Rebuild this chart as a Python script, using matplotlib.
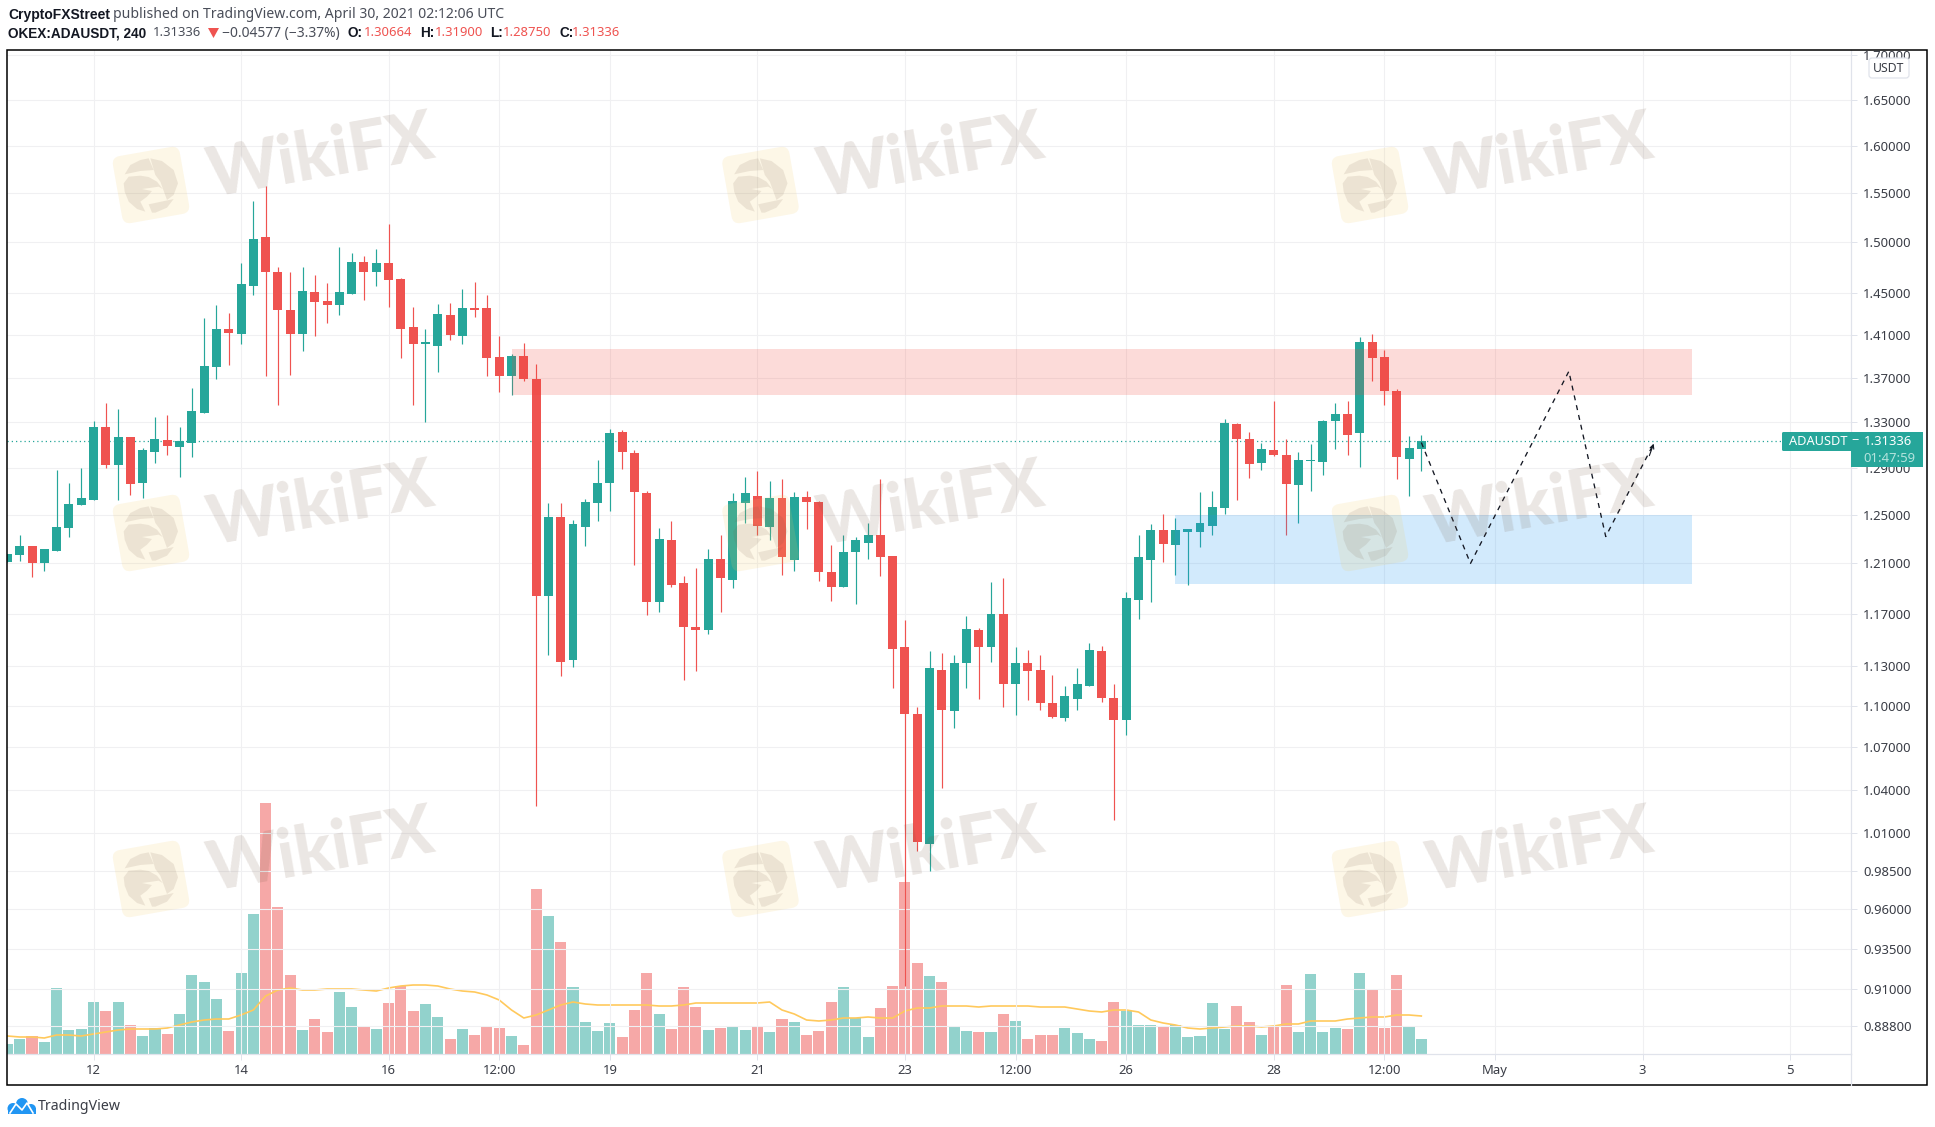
import numpy as np
import matplotlib
matplotlib.use("Agg")
import matplotlib.pyplot as plt
from matplotlib.patches import Rectangle, FancyBboxPatch, Polygon, Circle
from matplotlib.transforms import Affine2D
from matplotlib.ticker import FixedLocator, NullLocator

# -------------------------
#  OHLC (4h candles, index 0 = Apr 12 00:00, first candle is index -7)
# -------------------------
open_ = [1.211, 1.217, 1.224, 1.210, 1.220, 1.239, 1.258, 1.2625, 1.326, 1.292,
         1.317, 1.277, 1.304, 1.314, 1.308, 1.312, 1.338, 1.380, 1.416, 1.411,
         1.457, 1.505, 1.471, 1.434, 1.411, 1.451, 1.442, 1.438, 1.449, 1.480,
         1.471, 1.479, 1.464, 1.417, 1.401, 1.400, 1.429, 1.409, 1.436, 1.436,
         1.389, 1.372, 1.390, 1.369, 1.184, 1.248, 1.134, 1.240, 1.260, 1.277,
         1.321, 1.303, 1.268, 1.179, 1.229, 1.194, 1.160, 1.157, 1.214, 1.197,
         1.260, 1.266, 1.240, 1.264, 1.213, 1.265, 1.261, 1.203, 1.191, 1.219,
         1.227, 1.233, 1.216, 1.144, 1.094, 1.003, 1.127, 1.096, 1.132, 1.157,
         1.144, 1.170, 1.116, 1.132, 1.127, 1.102, 1.091, 1.105, 1.115, 1.141,
         1.106, 1.090, 1.181, 1.213, 1.237, 1.225, 1.236, 1.236, 1.241, 1.256,
         1.328, 1.315, 1.294, 1.3055, 1.301, 1.275, 1.296, 1.295, 1.331, 1.337,
         1.320, 1.403, 1.389, 1.358, 1.298, 1.30664]
high = [1.218, 1.233, 1.224, 1.222, 1.288, 1.277, 1.290, 1.331, 1.347, 1.342,
        1.317, 1.307, 1.335, 1.336, 1.326, 1.361, 1.426, 1.438, 1.431, 1.479,
        1.542, 1.558, 1.476, 1.471, 1.476, 1.468, 1.460, 1.495, 1.489, 1.486,
        1.493, 1.519, 1.465, 1.437, 1.416, 1.439, 1.440, 1.454, 1.461, 1.448,
        1.409, 1.392, 1.402, 1.383, 1.260, 1.260, 1.246, 1.263, 1.297, 1.324,
        1.323, 1.3055, 1.270, 1.239, 1.245, 1.200, 1.206, 1.222, 1.233, 1.268,
        1.282, 1.287, 1.279, 1.280, 1.269, 1.270, 1.262, 1.225, 1.233, 1.232,
        1.243, 1.280, 1.216, 1.165, 1.099, 1.141, 1.140, 1.138, 1.168, 1.159,
        1.195, 1.198, 1.144, 1.142, 1.138, 1.123, 1.115, 1.128, 1.147, 1.145,
        1.116, 1.187, 1.233, 1.242, 1.251, 1.247, 1.238, 1.269, 1.270, 1.333,
        1.329, 1.321, 1.312, 1.349, 1.315, 1.304, 1.311, 1.332, 1.347, 1.349,
        1.408, 1.411, 1.396, 1.360, 1.318, 1.319]
low = [1.211, 1.212, 1.199, 1.204, 1.220, 1.232, 1.258, 1.2625, 1.290, 1.2625,
       1.267, 1.264, 1.294, 1.301, 1.282, 1.299, 1.338, 1.369, 1.382, 1.401,
       1.448, 1.372, 1.345, 1.373, 1.395, 1.409, 1.421, 1.429, 1.449, 1.443,
       1.457, 1.437, 1.388, 1.345, 1.330, 1.375, 1.405, 1.401, 1.427, 1.372,
       1.357, 1.354, 1.367, 1.029, 1.138, 1.122, 1.129, 1.224, 1.245, 1.253,
       1.289, 1.209, 1.169, 1.171, 1.191, 1.119, 1.126, 1.154, 1.171, 1.190,
       1.243, 1.233, 1.229, 1.201, 1.204, 1.238, 1.196, 1.180, 1.191, 1.178,
       1.214, 1.200, 1.113, 0.912, 0.998, 0.985, 1.041, 1.084, 1.113, 1.105,
       1.133, 1.099, 1.093, 1.104, 1.097, 1.091, 1.089, 1.097, 1.115, 1.103,
       1.019, 1.079, 1.166, 1.179, 1.211, 1.201, 1.193, 1.223, 1.233, 1.251,
       1.2625, 1.281, 1.288, 1.300, 1.233, 1.243, 1.270, 1.284, 1.306, 1.301,
       1.291, 1.367, 1.345, 1.280, 1.266, 1.2875]
close = [1.218, 1.224, 1.210, 1.222, 1.240, 1.259, 1.264, 1.326, 1.292, 1.317,
         1.276, 1.3055, 1.315, 1.309, 1.313, 1.340, 1.381, 1.416, 1.412, 1.459,
         1.503, 1.471, 1.434, 1.411, 1.452, 1.441, 1.438, 1.451, 1.480, 1.471,
         1.479, 1.463, 1.416, 1.401, 1.403, 1.430, 1.410, 1.436, 1.434, 1.388,
         1.372, 1.390, 1.369, 1.184, 1.248, 1.133, 1.242, 1.261, 1.277, 1.320,
         1.304, 1.269, 1.179, 1.230, 1.193, 1.160, 1.157, 1.214, 1.198, 1.262,
         1.268, 1.241, 1.264, 1.215, 1.265, 1.261, 1.203, 1.191, 1.219, 1.229,
         1.233, 1.215, 1.143, 1.094, 1.004, 1.128, 1.097, 1.132, 1.158, 1.144,
         1.170, 1.116, 1.132, 1.126, 1.102, 1.092, 1.107, 1.116, 1.142, 1.106,
         1.090, 1.182, 1.215, 1.237, 1.226, 1.237, 1.238, 1.243, 1.257, 1.329,
         1.315, 1.293, 1.306, 1.301, 1.276, 1.297, 1.297, 1.331, 1.337, 1.319,
         1.403, 1.388, 1.358, 1.299, 1.307, 1.31336]

# Volume (no scale on the chart, relative units) and its moving average
volume = [10, 15, 18, 12, 66, 24, 25, 52, 43, 52,
          29, 18, 26, 20, 40, 79, 72, 55, 23, 81,
          140, 251, 147, 79, 24, 35, 22, 62, 47, 28,
          25, 51, 68, 43, 50, 37, 15, 25, 19, 27,
          26, 18, 9, 165, 138, 112, 67, 32, 23, 31,
          17, 44, 81, 40, 25, 67, 47, 24, 26, 27,
          24, 28, 22, 35, 32, 19, 23, 52, 67, 36,
          17, 46, 68, 172, 91, 78, 72, 27, 23, 22,
          22, 40, 33, 15, 19, 19, 26, 21, 15, 13,
          52, 43, 29, 29, 27, 29, 17, 18, 51, 25,
          48, 32, 19, 27, 69, 22, 80, 22, 26, 25,
          81, 64, 26, 79, 28, 15]
vol_ma = [18, 17, 17, 16, 19, 19, 18, 20, 22, 24,
          25, 25, 25, 26, 29, 32, 34, 35, 35, 39,
          44, 58, 64, 66, 64, 64, 65, 65, 65, 64,
          63, 66, 68, 69, 69, 68, 65, 63, 62, 59,
          54, 44, 36, 39, 44, 49, 52, 50, 49, 49,
          49, 49, 49, 48, 48, 49, 51, 51, 51, 51,
          51, 51, 52, 44, 40, 34, 33, 34, 36, 36,
          37, 36, 36, 43, 46, 46, 48, 48, 48, 47,
          48, 48, 48, 48, 47, 47, 47, 45, 43, 42,
          44, 44, 42, 34, 31, 29, 26, 25, 26, 27,
          28, 28, 27, 28, 30, 30, 33, 33, 33, 35,
          36, 37, 37, 39, 39, 38]

# axis ticks
price_ticks = [1.70, 1.65, 1.60, 1.55, 1.50, 1.45, 1.41, 1.37, 1.33, 1.29, 1.25, 1.21,
               1.17, 1.13, 1.10, 1.07, 1.04, 1.01, 0.985, 0.96, 0.935, 0.91, 0.888]
time_ticks = [0, 12, 24, 33, 42, 54, 66, 75, 84, 96, 105, 114, 126, 138]
time_labels = ["12", "14", "16", "12:00", "19", "21", "23", "12:00", "26", "28",
               "12:00", "May", "3", "5"]

# zones and projected path (candle index, price)
supply_zone = (34, 130, 1.354, 1.3964)
demand_zone = (88, 130, 1.1935, 1.250)
path_x = [108, 112, 120, 123, 126.9]
path_y = [1.312, 1.210, 1.376, 1.232, 1.311]
last_price = 1.31336

# -------------------------
#  colors / layout
# -------------------------
W, H = 1935, 1127
UP = "#26a69a"
DOWN = "#ef5350"
GRID = "#f0f0f2"
AXIS = "#e0e3eb"
TXT = "#3a3d46"
FONT = ["Noto Sans", "DejaVu Sans"]
plt.rcParams["font.family"] = FONT

fig = plt.figure(figsize=(W / 100, H / 100), dpi=100, facecolor="white")
rect = [7 / W, 1 - 1054 / H, (1851 - 7) / W, (1054 - 49.5) / H]

# volume panel sits behind the candles, same area
vax = fig.add_axes(rect, zorder=1)
ax = fig.add_axes(rect, zorder=2)
ax.patch.set_alpha(0)

x = np.arange(-7, 109)
o = np.array(open_)
c = np.array(close)
colors = [UP if c[i] >= o[i] else DOWN for i in range(len(x))]

vax.bar(x, volume, width=0.9, color=colors, alpha=0.5, linewidth=0)
vax.plot(x, vol_ma, color="#ffc95c", lw=1.2)
vax.set_ylim(0, 1004.5)
vax.set_xlim(-7.036, 142.95)
vax.axis("off")

# candles
ax.set_yscale("log")
ax.vlines(x, low, high, colors=colors, lw=0.85, zorder=3)
ax.bar(x, np.abs(c - o), bottom=np.minimum(o, c), width=0.73, color=colors, linewidth=0, zorder=4)

ax.axhline(last_price, color=UP, lw=0.9, ls=(0, (1, 2.4)), zorder=2)

# zones go over the candles
x0, x1, y0, y1 = supply_zone
ax.add_patch(Rectangle((x0, y0), x1 - x0, y1 - y0, facecolor="#f44336", alpha=0.19, edgecolor="none", zorder=5))
x0, x1, y0, y1 = demand_zone
ax.add_patch(Rectangle((x0, y0), x1 - x0, y1 - y0, facecolor="#2196f3", alpha=0.2, edgecolor="none", zorder=5))

ax.plot(path_x, path_y, color="#131722", lw=0.95, ls=(0, (3.8, 3.8)), zorder=6)
ax.annotate("", xy=(path_x[-1], path_y[-1]), xytext=(path_x[-1] - 0.35, path_y[-1] * 0.992),
            arrowprops=dict(arrowstyle="->", color="#131722", lw=0.8, mutation_scale=7, shrinkA=0, shrinkB=0), zorder=6)

ax.set_xlim(-7.036, 142.95)
ax.set_ylim(0.8714, 1.7067)

ax.yaxis.set_major_locator(FixedLocator(price_ticks))
ax.yaxis.set_minor_locator(NullLocator())
ax.yaxis.tick_right()
ax.set_yticklabels([f"{p:.5f}" for p in price_ticks])
ax.set_xticks(time_ticks)
ax.set_xticklabels(time_labels)
ax.grid(True, color=GRID, lw=0.8, zorder=0)
ax.set_axisbelow(True)
ax.tick_params(axis="y", which="major", length=4.3, width=0.7, color=AXIS, labelsize=9.4, labelcolor=TXT, pad=4.4)
ax.tick_params(axis="x", which="major", length=4.3, width=0.7, color=AXIS, labelsize=9.4, labelcolor=TXT, pad=3)
for s in ["left", "top"]:
    ax.spines[s].set_visible(False)
for s in ["right", "bottom"]:
    ax.spines[s].set_color(AXIS)
    ax.spines[s].set_linewidth(0.9)

# -------------------------
#  overlay in pixel coordinates: watermark, frame, labels, header
# -------------------------
ov = fig.add_axes([0, 0, 1, 1], zorder=3)
ov.set_xlim(0, W)
ov.set_ylim(H, 0)
ov.axis("off")


def watermark(cx, cy):
    tr = Affine2D().rotate_deg(-10).translate(cx, cy) + ov.transData
    ov.add_patch(FancyBboxPatch((-34, -34), 68, 68, boxstyle="round,pad=0,rounding_size=8",
                                facecolor="#f2ca5f", alpha=0.15, edgecolor="none", transform=tr))
    shapes = [
        [(75, 245), (90, 225), (125, 222), (150, 226), (175, 240), (192, 262), (180, 255), (160, 258),
         (130, 262), (160, 268), (145, 285), (125, 300), (140, 330), (115, 322), (90, 300), (78, 270)],
        [(78, 218), (95, 190), (125, 175), (150, 170), (165, 205), (125, 208)],
        [(155, 170), (190, 178), (225, 205), (238, 245), (225, 280), (205, 295), (185, 240), (170, 220)],
        [(150, 308), (225, 292), (205, 318), (170, 333), (160, 333)],
    ]
    for pts in shapes:
        xy = [(cx + (a - 157) / 3, cy + (b - 250) / 3) for a, b in pts]
        ov.add_patch(Polygon(xy, closed=True, facecolor="#785a46", alpha=0.12, edgecolor="none"))
    ov.text(cx + 170, cy - 27, "WikiFX", fontsize=49, fontweight=900, family="Lato", color="#785a46",
            alpha=0.15, rotation=10, rotation_mode="anchor", ha="center", va="center")


for wx in [151, 760.5, 1370]:
    for wy in [185, 533, 879]:
        watermark(wx, wy)

# frame + price axis line down to the bottom
ov.add_patch(Rectangle((7, 49.5), 1920, 1035.5, facecolor="none", edgecolor="black", lw=1.1))
ov.plot([1851, 1851], [1054, 1085], color=AXIS, lw=0.9)

# USDT badge
ov.add_patch(FancyBboxPatch((1869, 58), 40, 20, boxstyle="round,pad=0,rounding_size=3",
                            facecolor="white", edgecolor=AXIS, lw=0.9))
ov.text(1889, 68, "USDT", fontsize=8.8, color=TXT, ha="center", va="center")

# last price label
ov.add_patch(FancyBboxPatch((1782, 432), 71, 19, boxstyle="round,pad=0,rounding_size=1.5", facecolor=UP, edgecolor="none"))
ov.add_patch(Rectangle((1851, 432), 72, 35, facecolor=UP, edgecolor="none"))
ov.text(1789, 441.5, "ADAUSDT", fontsize=9.2, color="white", ha="left", va="center")
ov.text(1855, 441, "\u2212", fontsize=9.2, color="white", ha="center", va="center")
ov.text(1864, 441.5, "1.31336", fontsize=9.4, color="white", ha="left", va="center")
ov.text(1863, 458, "01:47:59", fontsize=9.4, color="#b4e3dd", ha="left", va="center")

# header
RED_T = DOWN
DARK = "#131722"
GREY = "#4a4e59"
BOLD = "Liberation Sans"
ov.text(8, 15, "CryptoFXStreet", fontsize=10, fontweight="bold", family=BOLD, color=DARK, va="center")
ov.text(113, 15, "published on TradingView.com, April 30, 2021 02:12:06 UTC", fontsize=10.1, color=GREY, va="center")
ov.text(8, 33, "OKEX:ADAUSDT, 240", fontsize=9.8, fontweight="bold", family=BOLD, color=DARK, va="center")
ov.text(153, 33, "1.31336", fontsize=9.4, color=GREY, va="center")
ov.add_patch(Polygon([(208, 28), (219, 28), (213.5, 38)], closed=True, facecolor=DOWN, edgecolor="none"))
ov.text(222, 33, "\u22120.04577 (\u22123.37%)", fontsize=10, color=GREY, va="center")
for bx, lab, vx, val in [(348, "O:", 364, "1.30664"), (420, "H:", 435, "1.31900"),
                         (490.5, "L:", 503, "1.28750"), (559, "C:", 572, "1.31336")]:
    ov.text(bx, 33, lab, fontsize=9.8, fontweight="bold", family=BOLD, color=DARK, va="center")
    ov.text(vx, 33, val, fontsize=9.4, color=RED_T, va="center")

# TradingView logo
BLUE = "#2196f3"
for lx, ly, r in [(13, 1108.5, 5.5), (22, 1104, 6), (31, 1109, 5)]:
    ov.add_patch(Circle((lx, ly), r, facecolor=BLUE, edgecolor="none"))
ov.add_patch(Rectangle((8, 1108), 28, 6, facecolor=BLUE, edgecolor="none"))
ov.plot([10, 16, 22, 27, 33], [1113, 1104, 1110, 1103, 1113], color="white", lw=1.2)
ov.text(38, 1106, "TradingView", fontsize=10.2, color="#3a3d46", ha="left", va="center")

fig.savefig("out.png", dpi=100)
